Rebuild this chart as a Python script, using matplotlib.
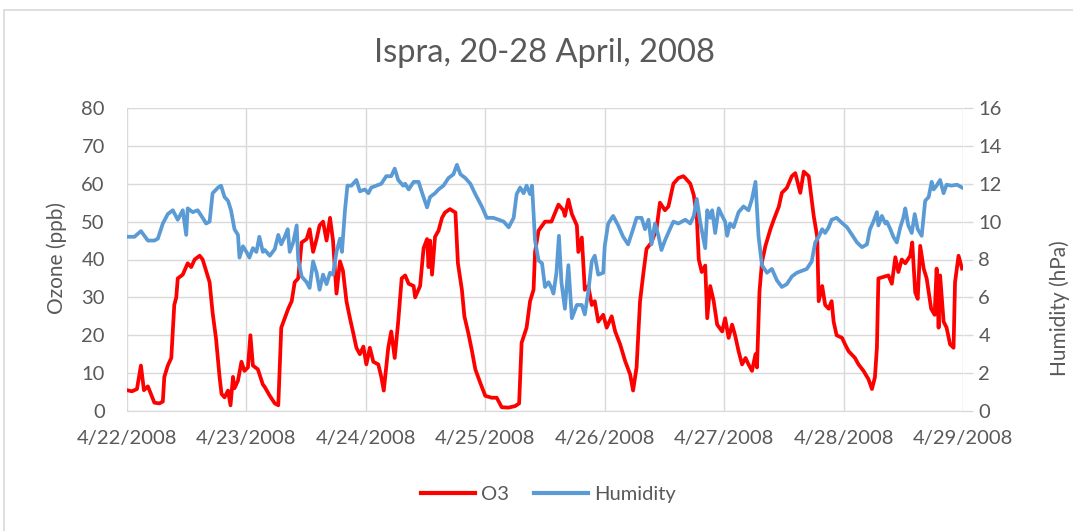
import matplotlib
matplotlib.use('Agg')
import matplotlib.pyplot as plt
from matplotlib.lines import Line2D
from matplotlib.patches import Rectangle

plt.rcParams['font.family'] = ['Lato', 'DejaVu Sans']

# hours since 4/22/2008 00:00
day_labels = ['4/22/2008', '4/23/2008', '4/24/2008', '4/25/2008',
              '4/26/2008', '4/27/2008', '4/28/2008', '4/29/2008']

o3_hours = [0, 1, 2, 2.8, 3.4, 4.2, 4.8, 5.5, 6.5, 7.2, 7.5, 8.2, 8.9, 9.5, 9.9, 10.2,
            11.2, 12.2, 12.9, 13.6, 14.6, 15.2, 15.9, 16.6, 17.2, 17.9, 18.6, 19.0,
            19.6, 20.3, 20.8, 21.3, 21.6, 22.3, 23.0, 23.6, 24.3, 24.8, 25.3, 26.3, 27.3,
            27.7, 28.7, 29.7, 30.4, 30.7, 31.0, 31.7, 32.4, 33.1, 33.7, 34.4, 35.1, 36.1,
            36.7, 37.4, 38.1, 38.7, 39.4, 40.1, 40.8, 41.4, 42.1, 42.8, 43.4, 44.1, 44.8,
            45.4, 46.1, 46.8, 47.5, 48.1, 48.8, 49.5, 50.5, 51.1, 51.6, 52.5, 53.1, 53.8,
            54.5, 55.2, 55.9, 56.6, 57.6, 57.9, 58.9, 59.6, 60.3, 60.6, 60.9, 61.3, 61.9,
            62.6, 63.3, 63.9, 64.9, 66.0, 66.5, 67.3, 67.8, 68.6, 69.3, 70.0, 71.0, 72.0,
            73.3, 74.3, 75.3, 76.7, 78.0, 78.8, 79.3, 80.3, 81.0, 81.7, 82.0, 82.7, 84.0,
            85.3, 86.7, 87.7, 88.0, 88.7, 89.4, 90.4, 90.7, 91.4, 92.0, 92.7, 93.4, 94.0,
            94.7, 95.7, 96.4, 97.4, 98.1, 99.1, 100.1, 101.1, 101.7, 102.4, 103.1, 103.8,
            104.4, 105.4, 106.4, 107.1, 108.1, 108.8, 109.8, 110.8, 111.8, 112.2, 113.2,
            113.9, 114.5, 114.9, 115.5, 116.2, 116.6, 117.2, 117.9, 118.6, 119.6, 120.2,
            120.9, 121.6, 122.2, 122.9, 123.6, 124.3, 124.9, 125.6, 126.3, 126.6, 127.1,
            127.6, 128.3, 129.3, 130.0, 131.0, 131.6, 132.6, 133.6, 134.3, 135.3, 136.0,
            137.0, 138.0, 138.7, 139.0, 139.7, 140.3, 141.0, 141.6, 142.0, 142.6, 143.7,
            144.3, 145.0, 146.3, 147.0, 148.0, 149.0, 149.7, 150.3, 150.7, 151.0, 152.0,
            153.0, 153.7, 154.4, 155.0, 155.7, 156.4, 157.4, 157.8, 158.4, 158.9, 159.4,
            160.1, 160.7, 161.6, 162.3, 162.7, 163.1, 163.4, 164.1, 164.7, 165.4, 166.1,
            166.4, 167.1, 167.8]
o3_ppb = [5.5, 5.2, 5.8, 12, 5.5, 6.5, 4.5, 2.2, 2.0, 2.5, 9, 12, 14, 28, 30, 35,
          36, 39, 38, 40, 41, 40, 37, 34, 26, 19, 9, 4.5,
          3.6, 5.4, 1.5, 9, 6, 8, 13, 10.6, 11.5, 20, 12, 11, 7,
          6.3, 4, 2, 1.5, 11.5, 22, 24.5, 27, 29, 34, 35, 44.5, 45.4,
          48, 42, 45.4, 49, 50, 45, 51, 45, 31, 39.5, 37, 29, 24.5,
          21, 16.7, 15, 17, 12.3, 16.7, 13, 12.3, 9, 5.4, 16.7, 21, 14,
          23.6, 35, 35.8, 33.6, 33, 30, 33, 43, 45.4, 38, 45, 36, 46,
          47.6, 51, 52.4, 53.3, 52.4, 39, 32, 25, 20.5, 16, 11, 7.4, 4,
          3.5, 3.5, 1, 0.9, 1.3, 2, 18, 22, 29, 32, 42, 47.6, 50,
          50, 54.5, 53, 51.5, 55.8, 52, 49, 42, 45.8, 32, 33, 28, 29,
          23.6, 25.4, 22, 25, 21, 17.6, 13.2, 9.7, 5.4, 11.5, 29, 36.7,
          42.8, 44.5, 48, 55, 53, 54, 60, 61.5, 62, 61.5, 60,
          57, 51.5, 40, 36.7, 38.4, 24.5, 33, 29, 22.8, 21, 24.5,
          19.3, 22.8, 20, 15.8, 12.3, 14, 12.3, 10.6, 15, 11.5, 31.5,
          39.3, 43.6, 48, 50.6, 54, 57.6, 58.9, 62, 62.8, 57.6, 63.2,
          62, 51.5, 46, 29, 33, 28, 27, 29, 23.6, 20, 19.3,
          17.6, 15.8, 14, 12.3, 10.6, 8.4, 5.8, 8.9, 16.7, 35, 35.4,
          35.8, 33.6, 40.6, 36.7, 40, 39, 41, 44.5, 31.3, 29.6, 43.6,
          37.6, 35, 27, 25.4, 37.6, 22, 35.8, 23.6, 22, 17.6, 16.7,
          34, 41, 37.6]

hum_hours = [0, 1.5, 2.8, 4.2, 5.5, 6.2, 7.2, 8.2, 9.2, 10.2, 11.2, 11.9, 12.2, 13.2,
             14.2, 15.2, 15.9, 16.6, 17.2, 18.3, 18.9, 19.6, 20.3, 20.9, 21.6, 22.3,
             22.6, 23.3, 24.0, 24.6, 25.3, 26.0, 26.6, 27.3,
             27.7, 28.7, 29.7, 30.4, 31.0, 31.7, 32.3, 32.7, 33.4, 34.1, 34.4, 35.1,
             36.1, 36.7, 37.4, 38.1, 38.7, 39.4, 40.1, 40.8, 41.4, 42.1, 42.8, 43.2,
             43.8, 44.3, 45.1, 46.1, 46.8, 47.8, 48.5, 49.1, 50.1, 51.1, 52.1, 53.1,
             53.8, 54.5, 55.5,
             55.9, 56.6, 57.6, 58.6, 59.2, 60.3, 60.9, 61.9, 62.6, 63.6, 64.6, 65.6,
             66.3, 67.0, 68.0, 69.0, 70.0, 71.3, 72.3, 73.6, 74.7, 75.7, 76.7, 77.7,
             78.3, 79.0, 79.7, 80.3, 81.0, 81.4, 82.0, 82.7, 83.4, 84.0,
             84.7, 85.3, 85.7, 86.3, 86.8, 87.3, 88.0, 88.7, 89.4, 90.4, 91.4, 92.0,
             92.7, 93.4, 94.0, 94.7, 95.7, 96.0, 96.7, 97.7, 98.7, 99.7, 100.7, 101.7,
             102.4, 103.4, 104.1, 104.8, 105.4, 106.1, 106.8, 107.4, 108.1, 109.1,
             109.8, 110.8, 112.2,
             113.2, 113.9, 114.5, 115.2, 116.2, 116.6, 117.2, 117.6, 118.2, 118.9,
             119.6, 120.2, 120.6, 121.2, 121.9, 122.9, 123.9, 124.9, 125.6, 126.3,
             126.9, 127.6, 128.6, 129.6, 130.6, 131.6, 132.6, 133.6, 134.6, 135.6,
             136.6, 137.6, 138.3, 139.0, 139.7,
             140.3, 141.0, 141.6, 142.6, 143.6, 144.7, 145.7, 146.7, 147.7, 148.7,
             149.3, 150.0, 150.7, 151.0, 151.7, 152.4, 152.7, 153.4, 154.0, 154.7,
             155.4, 156.0, 156.4, 157.0, 157.7, 158.3, 158.9, 159.7, 160.4, 161.1,
             161.7, 162.1, 162.7, 163.4, 164.1, 164.7, 165.7, 166.8, 167.8]
hum_hpa = [9.2, 9.2, 9.5, 9.0, 9.0, 9.1, 9.9, 10.4, 10.6, 10.1, 10.6, 9.3, 10.7, 10.5,
           10.6, 10.2, 9.9, 10.0, 11.5, 11.8, 11.9, 11.3, 11.1, 10.6, 9.6, 9.3,
           8.1, 8.7, 8.4, 8.1, 8.6, 8.4, 9.2, 8.4,
           8.5, 8.2, 8.55, 9.3, 8.8, 9.2, 9.6, 8.4, 8.9, 9.8, 8.0, 7.1,
           6.8, 6.5, 7.9, 7.3, 6.4, 7.2, 6.7, 7.3, 7.2, 8.4, 9.1, 8.4,
           10.6, 11.9, 11.9, 12.2, 11.6, 11.7, 11.5, 11.8, 11.9, 12.0, 12.4, 12.4,
           12.8, 12.2, 11.9,
           12.0, 11.7, 12.1, 12.1, 11.6, 10.75, 11.3, 11.5, 11.7, 11.9, 12.3, 12.5,
           13.0, 12.5, 12.3, 12.0, 11.45, 10.8, 10.2, 10.2, 10.1, 10.0, 9.7, 10.2,
           11.45, 11.8, 11.5, 11.9, 11.45, 11.9, 9.0, 7.95, 7.8, 6.55,
           6.8, 6.5, 6.2, 7.3, 9.25, 6.8, 5.4, 7.7, 4.9, 5.6, 5.6, 5.1,
           6.3, 7.9, 8.2, 7.2, 7.3, 8.7, 9.9, 10.3, 9.8, 9.2, 8.8, 9.6,
           10.2, 10.2, 9.6, 10.1, 8.8, 9.9, 9.25, 8.5, 9.0, 9.6,
           10.0, 9.9, 10.1,
           9.9, 10.3, 11.2, 9.95, 8.6, 10.6, 10.2, 10.6, 9.4, 10.7,
           10.3, 10.0, 9.25, 9.9, 9.7, 10.5, 10.8, 10.6, 11.2, 12.1,
           9.25, 7.7, 7.3, 7.5, 6.9, 6.55, 6.7, 7.1, 7.3, 7.4,
           7.5, 7.9, 8.9, 9.2, 9.6,
           9.4, 9.7, 10.1, 10.2, 9.95, 9.7, 9.3, 8.9, 8.65, 8.8,
           9.6, 10.0, 10.5, 9.8, 10.3, 9.9, 10.0, 9.6, 9.2, 8.9,
           9.7, 10.2, 10.7, 9.8, 9.4, 10.4, 9.6, 9.25, 11.1, 11.3,
           12.1, 11.7, 11.9, 12.2, 11.5, 11.95, 11.9, 11.95, 11.8]

RED = '#ff0000'
BLUE = '#5b9bd5'
GRAY_TXT = '#595959'
GRID = '#d9d9d9'

fig = plt.figure(figsize=(10.73, 5.31), dpi=100)
fig.patch.set_facecolor('white')
# chart border
fig.patches.append(Rectangle((4 / 1073, -0.05), 1.1, 1 - 10 / 531 + 0.05,
                             transform=fig.transFigure, fill=False,
                             edgecolor=GRID, lw=1.2))

ax = fig.add_axes([127 / 1073, 1 - 411 / 531, 836 / 1073, 303 / 531])
ax.plot(o3_hours, o3_ppb, color=RED, lw=2.7, solid_joinstyle='round')
ax.set_xlim(0, 168)
ax.set_ylim(0, 80)
ax.set_yticks(range(0, 81, 10))
ax.set_xticks(range(0, 169, 24))
ax.set_xticklabels(day_labels)
ax.set_axisbelow(True)
ax.grid(True, color=GRID, lw=1)
for side in ['top', 'left', 'right']:
    ax.spines[side].set_visible(False)
ax.spines['bottom'].set_color(GRID)
ax.tick_params(axis='both', length=0, colors=GRAY_TXT, labelsize=14.5)
ax.tick_params(axis='x', pad=14)
ax.tick_params(axis='y', pad=16)

ax2 = ax.twinx()
ax2.plot(hum_hours, hum_hpa, color=BLUE, lw=2.7, solid_joinstyle='round')
ax2.set_ylim(0, 16)
ax2.set_yticks(range(0, 17, 2))
for side in ['top', 'left', 'right', 'bottom']:
    ax2.spines[side].set_visible(False)
ax2.tick_params(axis='y', length=7, width=1, color=GRID, labelcolor=GRAY_TXT,
                labelsize=14.5, pad=4)

fig.text(544 / 1073, 1 - 53 / 531, 'Ispra, 20-28 April, 2008', ha='center',
         va='center', fontsize=23.5, color=GRAY_TXT)
fig.text(57 / 1073, 1 - 258 / 531, 'Ozone (ppb)', rotation=90, ha='center',
         va='center', fontsize=15, color=GRAY_TXT)
fig.text(1060 / 1073, 1 - 308 / 531, 'Humidity (hPa)', rotation=90, ha='center',
         va='center', fontsize=15, color=GRAY_TXT)

handles = [Line2D([], [], color=RED, lw=3), Line2D([], [], color=BLUE, lw=3)]
fig.legend(handles, ['O3', 'Humidity'], loc='center', bbox_to_anchor=(0.511, 0.068),
           ncol=2, frameon=False, fontsize=14.5, labelcolor=GRAY_TXT,
           handlelength=2.7, handletextpad=0.3, columnspacing=1.2)

fig.savefig('out.png', dpi=100)
